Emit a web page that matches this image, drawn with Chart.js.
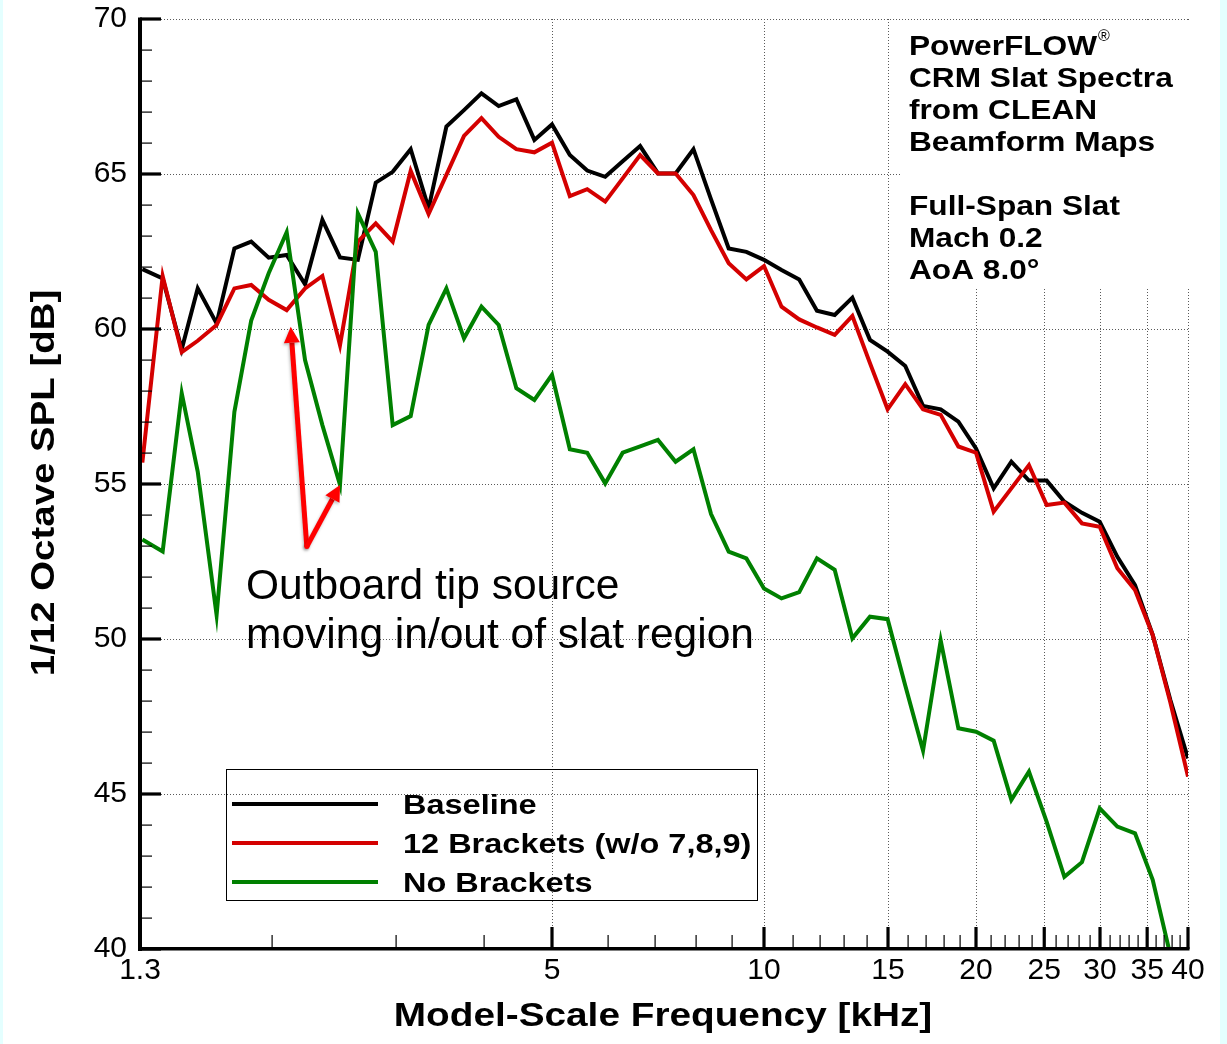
<!DOCTYPE html>
<html>
<head>
<meta charset="utf-8">
<script src="https://cdn.jsdelivr.net/npm/chart.js@4.4.1/dist/chart.umd.min.js"></script>
<style>
html,body{margin:0;padding:0;background:#fff;}
#wrap{width:1227px;height:1044px;position:relative;overflow:hidden;}
canvas{display:block;}
</style>
</head>
<body>
<div id="wrap"><canvas id="c" width="1227" height="1044"></canvas></div>
<script>
// ---------------- data ----------------
const frequenciesKHz = [1.31, 1.40, 1.49, 1.57, 1.67, 1.77, 1.87, 1.98, 2.10, 2.23,
  2.36, 2.50, 2.65, 2.81, 2.97, 3.15, 3.34, 3.54, 3.75, 3.97,
  4.20, 4.45, 4.72, 5.00, 5.30, 5.61, 5.95, 6.30, 6.67, 7.07,
  7.49, 7.94, 8.41, 8.91, 9.44, 10.0, 10.59, 11.22, 11.89, 12.60,
  13.35, 14.14, 14.98, 15.87, 16.82, 17.82, 18.88, 20.0, 21.19, 22.45,
  23.78, 25.20, 26.70, 28.28, 29.97, 31.75, 33.64, 35.64, 37.76, 40.0];

const baselineSPL = [61.93, 61.63, 59.35, 61.31, 60.18, 62.60, 62.82, 62.30, 62.39, 61.44,
  63.52, 62.31, 62.23, 64.72, 65.07, 65.80, 63.89, 66.53, 67.06, 67.60,
  67.19, 67.41, 66.10, 66.60, 65.61, 65.11, 64.91, 65.41, 65.90, 65.02,
  65.02, 65.80, 64.18, 62.60, 62.49, 62.23, 61.90, 61.60, 60.59, 60.45,
  61.01, 59.65, 59.27, 58.81, 57.52, 57.41, 57.01, 56.15, 54.86, 55.72,
  55.11, 55.11, 54.43, 54.07, 53.78, 52.65, 51.74, 50.13, 48.03, 46.15];

const brackets12SPL = [55.69, 61.71, 59.25, 59.62, 60.13, 61.31, 61.42, 60.94, 60.61, 61.31,
  61.71, 59.48, 62.82, 63.41, 62.82, 65.10, 63.71, 64.97, 66.23, 66.80,
  66.20, 65.80, 65.70, 66.01, 64.29, 64.51, 64.11, 64.86, 65.61, 65.02,
  65.02, 64.32, 63.19, 62.12, 61.60, 62.03, 60.72, 60.31, 60.05, 59.81,
  60.42, 58.90, 57.41, 58.22, 57.41, 57.23, 56.21, 56.01, 54.11, 54.86,
  55.61, 54.32, 54.40, 53.73, 53.62, 52.28, 51.58, 50.13, 47.95, 45.56];

const noBracketsSPL = [53.21, 52.82, 57.93, 55.40, 50.77, 57.33, 60.27, 61.80, 63.12, 59.00,
  56.90, 54.97, 63.73, 62.49, 56.90, 57.19, 60.13, 61.31, 59.70, 60.72,
  60.13, 58.09, 57.71, 58.52, 56.12, 56.01, 55.02, 56.01, 56.21, 56.42,
  55.72, 56.12, 54.03, 52.82, 52.60, 51.63, 51.31, 51.51, 52.60, 52.23,
  50.02, 50.72, 50.64, 48.50, 46.40, 49.95, 47.12, 47.01, 46.72, 44.81,
  45.72, 44.10, 42.33, 42.80, 44.54, 43.95, 43.73, 42.23, 39.80, 37.00];

const seriesLabels = ['Baseline', '12 Brackets (w/o 7,8,9)', 'No Brackets'];
const seriesColors = ['#000000', '#d40000', '#008000'];

const xTickValues = [1.3, 5, 10, 15, 20, 25, 30, 35, 40];
const xTickLabels = ['1.3', '5', '10', '15', '20', '25', '30', '35', '40'];
const xMajorTickValues = [5, 10, 15, 20, 25, 30, 35, 40];
const xMinorTickValues = [2, 3, 4, 6, 7, 8, 9, 11, 12, 13, 14, 16, 17, 18, 19, 21, 22, 23, 24,
  26, 27, 28, 29, 31, 32, 33, 34, 36, 37, 38, 39];
const yTickValues = [40, 45, 50, 55, 60, 65, 70];
const yMinorTickValues = [41,42,43,44,46,47,48,49,51,52,53,54,56,57,58,59,61,62,63,64,66,67,68,69];

const xTitle = 'Model-Scale Frequency [kHz]';
const yTitle = '1/12 Octave SPL [dB]';
const infoLines = ['PowerFLOW', 'CRM Slat Spectra', 'from CLEAN', 'Beamform Maps', '', 'Full-Span Slat', 'Mach 0.2', 'AoA 8.0\u00B0'];
const annotationLines = ['Outboard tip source', 'moving in/out of slat region'];
// arrows in data coordinates: [tail kHz, tail dB, tip kHz, tip dB]
const arrowSpecs = [[2.243, 52.98, 2.128, 60.07], [2.243, 52.98, 2.50, 54.97]];

// ---------------- drawing helpers ----------------
const FONT = "'Liberation Sans', Arial, Helvetica, sans-serif";
const BOLD_STRETCH = 1.13;

function drawText(ctx, text, x, y, size, bold, sx, align) {
  ctx.save();
  ctx.font = (bold ? 'bold ' : '') + size + 'px ' + FONT;
  ctx.textBaseline = 'alphabetic';
  ctx.textAlign = 'left';
  const w = ctx.measureText(text).width * sx;
  let x0 = x;
  if (align === 'center') x0 = x - w / 2;
  else if (align === 'right') x0 = x - w;
  ctx.translate(x0, y);
  ctx.scale(sx, 1);
  ctx.fillStyle = '#000';
  ctx.fillText(text, 0, 0);
  ctx.restore();
  return w;
}

const bgPlugin = {
  id: 'bg',
  beforeDraw(chart) {
    const ctx = chart.ctx;
    ctx.save();
    ctx.fillStyle = '#ffffff';
    ctx.fillRect(0, 0, chart.width, chart.height);
    ctx.fillStyle = '#e4ffff';
    ctx.fillRect(0, 0, 3, chart.height);
    ctx.fillRect(1220, 0, 7, chart.height);
    ctx.restore();
  }
};

const gridPlugin = {
  id: 'dottedGrid',
  beforeDatasetsDraw(chart) {
    const ctx = chart.ctx, a = chart.chartArea;
    const xs = chart.scales.x, ys = chart.scales.y;
    ctx.save();
    ctx.strokeStyle = '#5a5a5a';
    ctx.lineWidth = 1;
    ctx.setLineDash([1, 2]);
    yTickValues.forEach(v => {
      if (v === 40) return;
      const y = Math.round(ys.getPixelForValue(v)) + 0.5;
      ctx.beginPath(); ctx.moveTo(a.left, y); ctx.lineTo(a.right, y); ctx.stroke();
    });
    xMajorTickValues.forEach(v => {
      const x = Math.round(xs.getPixelForValue(v)) + 0.5;
      ctx.beginPath(); ctx.moveTo(x, a.top); ctx.lineTo(x, a.bottom); ctx.stroke();
    });
    ctx.setLineDash([]);
    // white panel behind the info text
    ctx.fillStyle = '#ffffff';
    ctx.fillRect(901, a.top + 2, 292, 287 - a.top - 2);
    ctx.restore();
  }
};

const decorPlugin = {
  id: 'decor',
  afterDatasetsDraw(chart) {
    const ctx = chart.ctx, a = chart.chartArea;
    const xs = chart.scales.x, ys = chart.scales.y;
    ctx.save();
    ctx.fillStyle = '#000';
    // axis lines
    ctx.fillRect(a.left - 2, a.top - 1.5, 4, a.bottom - a.top + 3.5);
    ctx.fillRect(a.left - 2, a.bottom - 2, a.right - a.left + 3.5, 3.5);
    // y ticks (inside)
    yTickValues.forEach(v => {
      const y = ys.getPixelForValue(v);
      ctx.fillRect(a.left, y - 1.6, 21, 3.2);
    });
    yMinorTickValues.forEach(v => {
      const y = Math.round(ys.getPixelForValue(v));
      ctx.fillRect(a.left, y - 0.5, 12, 1.2);
    });
    // x ticks (inside)
    xMajorTickValues.forEach(v => {
      const x = xs.getPixelForValue(v);
      ctx.fillRect(x - 1.6, a.bottom - 22, 3.2, 22);
    });
    xMinorTickValues.forEach(v => {
      const x = Math.round(xs.getPixelForValue(v));
      ctx.fillRect(x - 0.5, a.bottom - 14, 1.2, 14);
    });

    // arrows
    ctx.save();
    ctx.shadowColor = 'rgba(0,0,0,0.25)';
    ctx.shadowBlur = 3;
    ctx.shadowOffsetX = -1;
    ctx.shadowOffsetY = 2;
    ctx.strokeStyle = '#ff0000';
    ctx.fillStyle = '#ff0000';
    ctx.lineWidth = 5;
    ctx.lineCap = 'butt';
    arrowSpecs.forEach(s => {
      const x0 = xs.getPixelForValue(s[0]), y0 = ys.getPixelForValue(s[1]);
      const x1 = xs.getPixelForValue(s[2]), y1 = ys.getPixelForValue(s[3]);
      const ang = Math.atan2(y1 - y0, x1 - x0);
      const hl = 16, hw = 8;
      const bx = x1 - hl * Math.cos(ang), by = y1 - hl * Math.sin(ang);
      ctx.beginPath(); ctx.moveTo(x0, y0); ctx.lineTo(bx, by); ctx.stroke();
      ctx.beginPath();
      ctx.moveTo(x1, y1);
      ctx.lineTo(bx + hw * Math.sin(ang), by - hw * Math.cos(ang));
      ctx.lineTo(bx - hw * Math.sin(ang), by + hw * Math.cos(ang));
      ctx.closePath(); ctx.fill();
    });
    const tx = xs.getPixelForValue(arrowSpecs[0][0]), ty = ys.getPixelForValue(arrowSpecs[0][1]);
    ctx.beginPath(); ctx.arc(tx, ty, 2.5, 0, Math.PI * 2); ctx.fill();
    ctx.restore();

    // annotation
    drawText(ctx, annotationLines[0], 246, 599, 42, false, 1.012, 'left');
    drawText(ctx, annotationLines[1], 246, 648, 42, false, 1.012, 'left');

    // legend
    ctx.strokeStyle = '#000';
    ctx.lineWidth = 1;
    ctx.strokeRect(226.5, 769.5, 531, 131);
    const rowY = [804, 843, 882];
    seriesLabels.forEach((lab, i) => {
      ctx.fillStyle = seriesColors[i];
      ctx.fillRect(232, rowY[i] - 2, 146, 4);
      drawText(ctx, lab, 403, rowY[i] + 10, 28, true, 1.16, 'left');
    });

    // info text
    const infoBase = [55, 87, 119, 151, 183, 215, 247, 279];
    infoLines.forEach((t, i) => {
      if (!t) return;
      const w = drawText(ctx, t, 909, infoBase[i], 28, true, BOLD_STRETCH, 'left');
      if (i === 0) drawText(ctx, '\u00AE', 909 + w + 1, 41, 16, false, 1, 'left');
    });

    // axis titles
    drawText(ctx, xTitle, 663, 1026, 34, true, 1.14, 'center');
    ctx.save();
    ctx.translate(54, 483);
    ctx.rotate(-Math.PI / 2);
    drawText(ctx, yTitle, 0, 0, 34, true, BOLD_STRETCH, 'center');
    ctx.restore();

    ctx.restore();
  }
};

function toPoints(vals) {
  return vals.map((v, i) => ({ x: frequenciesKHz[i], y: v }));
}

const datasets = [baselineSPL, brackets12SPL, noBracketsSPL].map((vals, i) => ({
  label: seriesLabels[i],
  data: toPoints(vals),
  borderColor: seriesColors[i],
  backgroundColor: seriesColors[i],
  borderWidth: 4,
  pointRadius: 0,
  pointHoverRadius: 0,
  tension: 0,
  fill: false
})).reverse();

new Chart(document.getElementById('c'), {
  type: 'line',
  data: { datasets },
  options: {
    responsive: false,
    animation: false,
    devicePixelRatio: 1,
    layout: { padding: { left: 0, right: 39, top: 19, bottom: 0 } },
    plugins: { legend: { display: false }, tooltip: { enabled: false } },
    events: [],
    scales: {
      x: {
        type: 'logarithmic',
        min: 1.3,
        max: 40,
        afterFit(s) { s.height = 95; s.paddingLeft = 0; s.paddingRight = 0; s.paddingTop = 0; s.paddingBottom = 0; },
        afterBuildTicks(s) { s.ticks = xTickValues.map(v => ({ value: v })); },
        grid: { display: false, drawTicks: false },
        border: { display: false },
        ticks: {
          autoSkip: false, maxRotation: 0, minRotation: 0, padding: 4,
          color: '#000',
          font: { family: FONT, size: 30 },
          callback(v) { const i = xTickValues.indexOf(v); return i >= 0 ? xTickLabels[i] : ''; }
        }
      },
      y: {
        type: 'linear',
        min: 40,
        max: 70,
        afterFit(s) { s.width = 140; s.paddingLeft = 0; s.paddingRight = 0; s.paddingTop = 0; s.paddingBottom = 0; },
        afterBuildTicks(s) { s.ticks = yTickValues.map(v => ({ value: v })); },
        grid: { display: false, drawTicks: false },
        border: { display: false },
        ticks: {
          padding: 13,
          color: '#000',
          font: { family: FONT, size: 30 },
          callback(v) { return String(v); }
        }
      }
    }
  },
  plugins: [bgPlugin, gridPlugin, decorPlugin]
});
</script>
</body>
</html>
